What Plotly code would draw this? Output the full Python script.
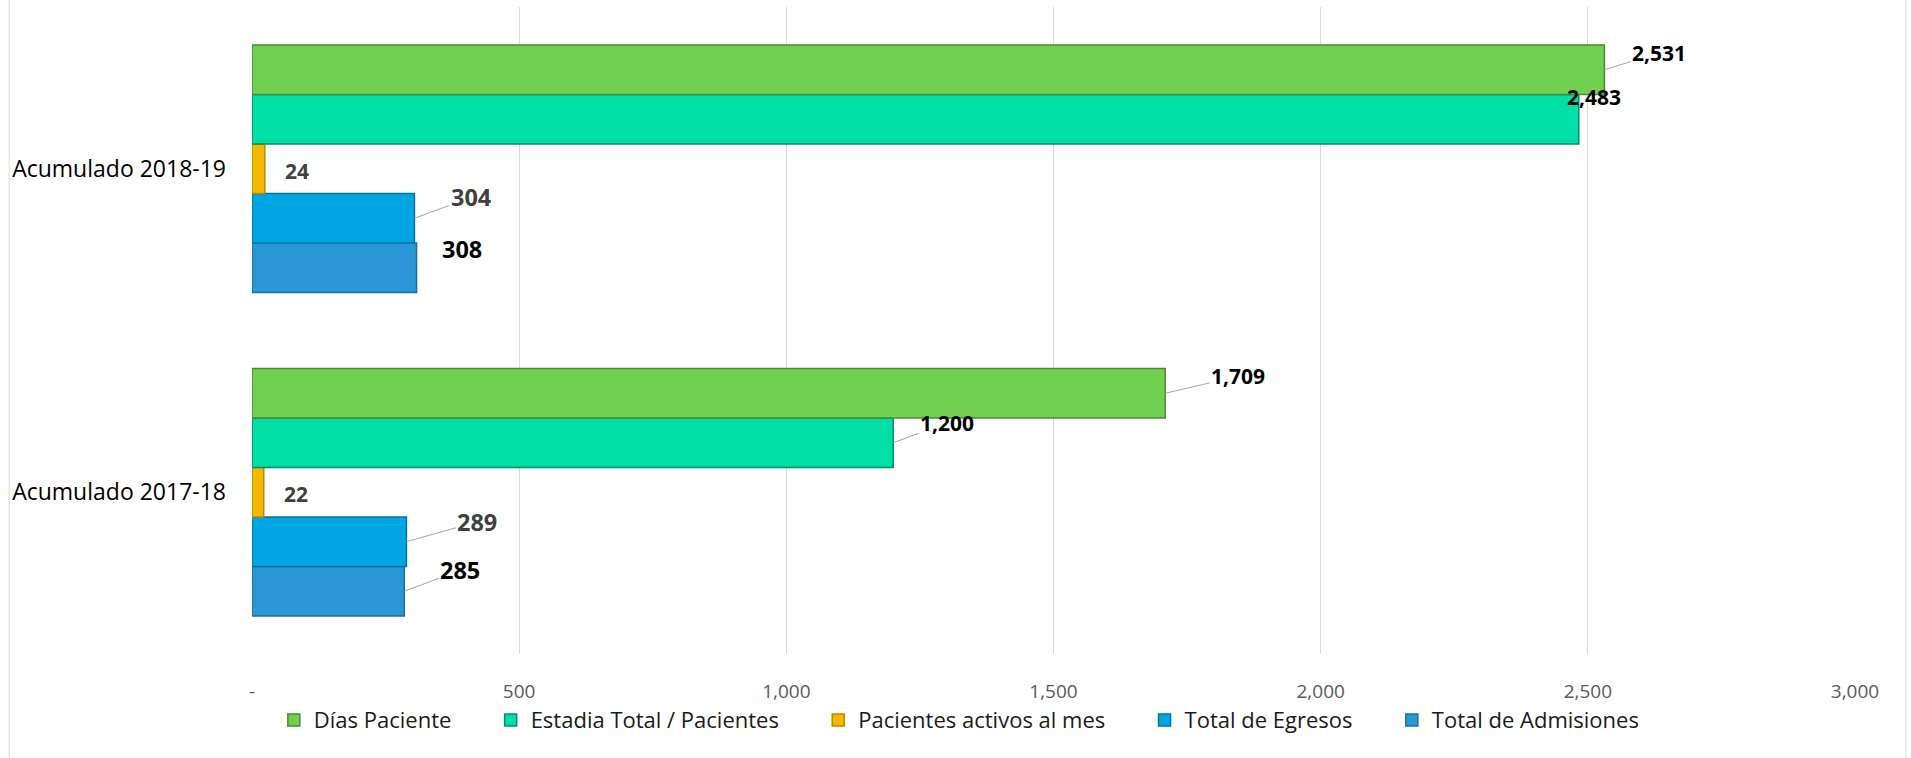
import plotly.graph_objects as go

categories = ["Acumulado 2017-18", "Acumulado 2018-19"]
series_names = ["Días Paciente", "Estadia Total / Pacientes", "Pacientes activos al mes",
                "Total de Egresos", "Total de Admisiones"]
dias_paciente = [1709, 2531]
estadia_total = [1200, 2483]
pacientes_activos = [22, 24]
total_egresos = [289, 304]
total_admisiones = [285, 308]
x_tickvals = [0, 500, 1000, 1500, 2000, 2500, 3000]
x_ticktext = ["-", "500", "1,000", "1,500", "2,000", "2,500", "3,000"]

values = [dias_paciente, estadia_total, pacientes_activos, total_egresos, total_admisiones]

# styles (per series)
fill = ["#72d050", "#00dfa6", "#f5b700", "#00a6e3", "#2a98d6"]
edge = ["#4b8a34", "#00906c", "#b88a00", "#0076a8", "#1c6e9e"]
FONT = "Open Sans"
PAD = "\u00a0" * 6

BARGAP = 0.235
W = (1 - BARGAP) / 5

fig = go.Figure()
# plot bottom-to-top: Admisiones first
for k in reversed(range(5)):
    fig.add_trace(go.Bar(
        y=categories, x=values[k], name=series_names[k] + (PAD if k < 4 else ""),
        orientation="h",
        marker=dict(color=fill[k], line=dict(color=edge[k], width=1.5)),
        legendrank=k + 1,
    ))

# label styles: (series index, category index) -> (dx, dy, leader, color, size)
label_style = {
    (0, 1): (55, -17, True, "#000000", 21),
    (1, 1): (15, -22, False, "#000000", 21),
    (2, 1): (32, 2, False, "#404040", 21),
    (3, 1): (57, -21, True, "#404040", 23.5),
    (4, 1): (45, -19, False, "#000000", 23.5),
    (0, 0): (73, -17, True, "#000000", 21),
    (1, 0): (54, -20, True, "#000000", 21),
    (2, 0): (32, 2, False, "#404040", 21),
    (3, 0): (71, -20, True, "#404040", 23.5),
    (4, 0): (56, -21, True, "#000000", 23.5),
}

for k in range(5):
    pos = 4 - k  # position inside group from bottom
    for c in range(2):
        v = values[k][c]
        dx, dy, leader, col, sz = label_style[(k, c)]
        yv = c + (pos - 2) * W
        txt = f"<b>{v:,}</b>"
        if leader:
            fig.add_annotation(x=v, y=yv, text=txt, showarrow=True, ax=dx, ay=dy,
                               arrowhead=0, arrowwidth=1, arrowcolor="#a6a6a6", standoff=0,
                               font=dict(family=FONT, size=sz, color=col))
        else:
            fig.add_annotation(x=v, y=yv, text=txt, showarrow=False, xshift=dx, yshift=-dy,
                               font=dict(family=FONT, size=sz, color=col))

# chart border lines
for xv in (-0.1515, 1.0318):
    fig.add_shape(type="line", xref="paper", yref="paper", x0=xv, x1=xv, y0=-0.2, y1=1.02,
                  line=dict(color="#d9d9d9", width=1))

fig.update_layout(
    width=1911, height=758,
    margin=dict(l=252, r=56, t=7, b=104, autoexpand=False),
    barmode="group", bargap=BARGAP, bargroupgap=0,
    plot_bgcolor="white", paper_bgcolor="white",
    font=dict(family=FONT, size=19, color="#404040"),
    legend=dict(orientation="h", xref="container", yref="container", x=0.502, xanchor="center",
                y=0.05, yanchor="middle", font=dict(size=22, color="#1a1a1a"),
                bgcolor="rgba(0,0,0,0)", itemwidth=30, traceorder="normal"),
    xaxis=dict(range=[0, 3000], tickvals=x_tickvals, ticktext=x_ticktext,
               showgrid=True, gridcolor="#d9d9d9", gridwidth=1, zeroline=False,
               showline=False, ticks="", ticklabelstandoff=24,
               tickfont=dict(size=19, color="#595959")),
    yaxis=dict(categoryorder="array", categoryarray=categories, showgrid=False,
               zeroline=False, showline=False, ticks="", ticklabelstandoff=25,
               tickfont=dict(size=23, color="#000000")),
)

fig.write_html("out.html", config={"displayModeBar": False},
               post_script="document.body.style.margin='0';")
